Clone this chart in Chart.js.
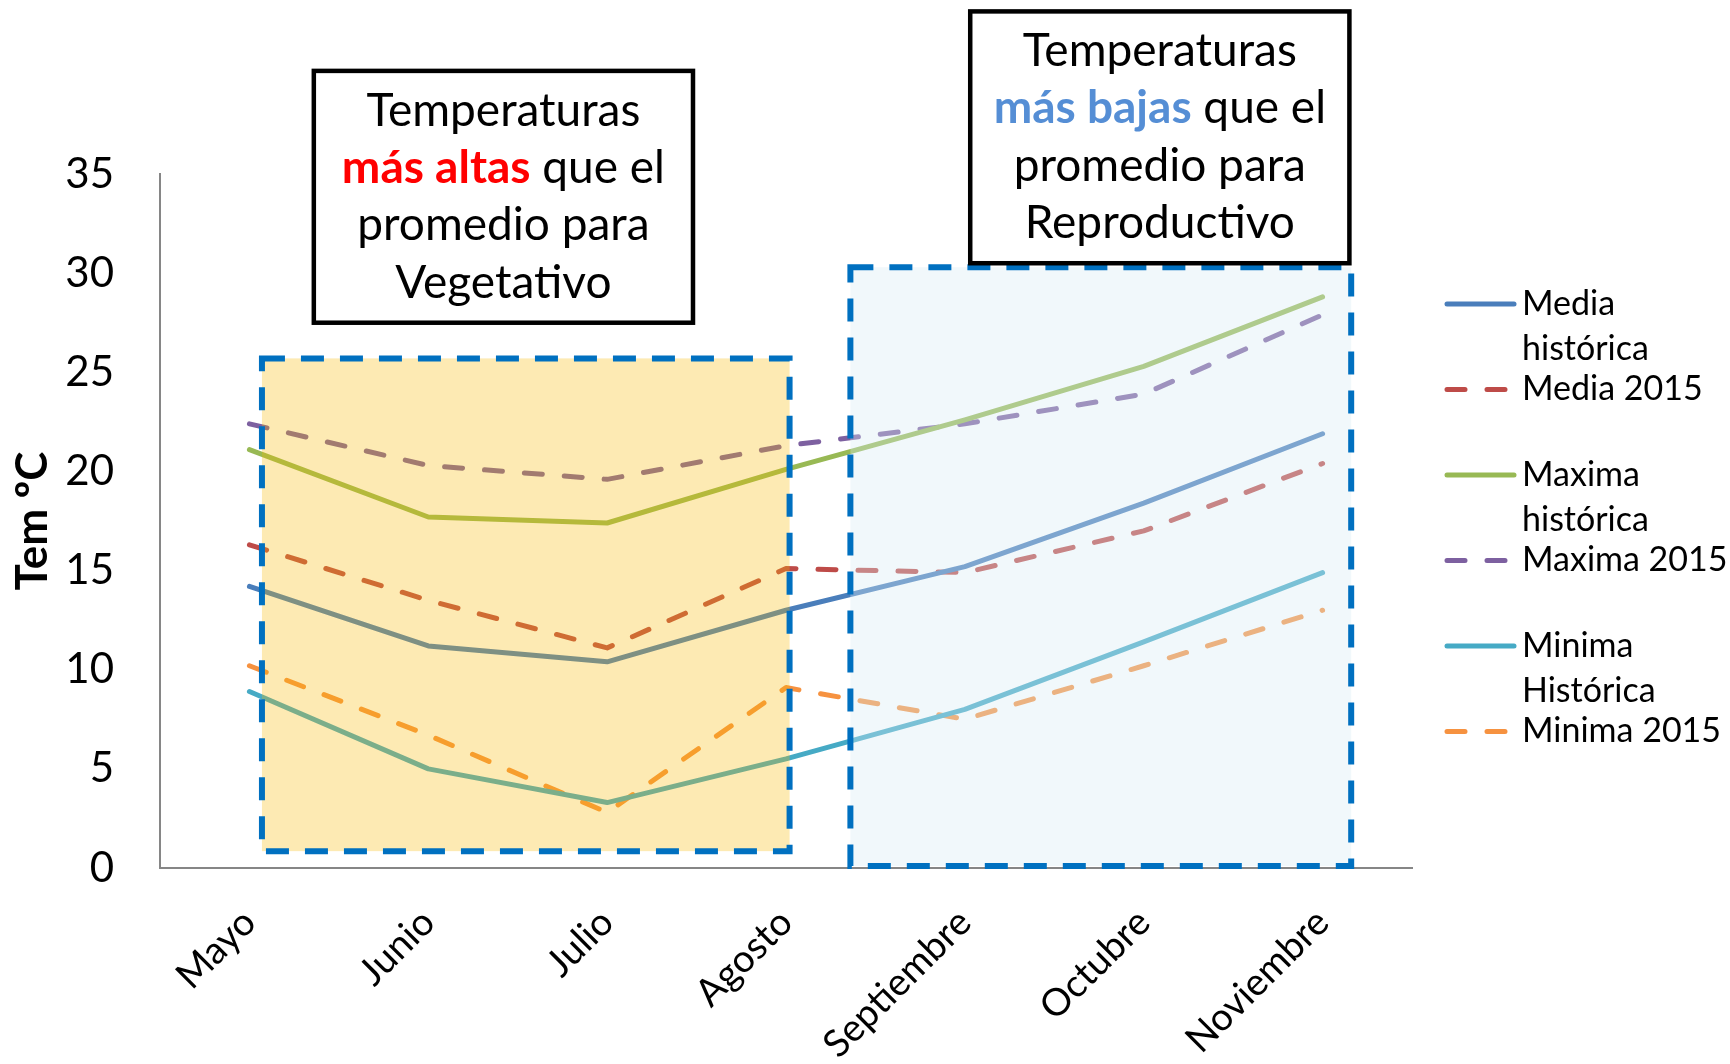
<!DOCTYPE html>
<html><head><meta charset="utf-8">
<script src="https://cdn.jsdelivr.net/npm/chart.js@4"></script>
<style>html,body{margin:0;padding:0;background:#fff;overflow:hidden}</style>
</head><body>
<canvas id="c" width="1730" height="1064"></canvas>
<script>
const categories = ['Mayo','Junio','Julio','Agosto','Septiembre','Octubre','Noviembre'];
const mediaHistorica  = [14.2, 11.2, 10.4, 13.0, 15.2, 18.4, 21.9];
const media2015       = [16.3, 13.5, 11.1, 15.1, 14.9, 17.0, 20.4];
const maximaHistorica = [21.1, 17.7, 17.4, 20.1, 22.6, 25.3, 28.8];
const maxima2015      = [22.4, 20.3, 19.6, 21.3, 22.4, 23.9, 27.9];
const minimaHistorica = [8.9, 5.0, 3.3, 5.5, 8.0, 11.4, 14.9];
const minima2015      = [10.2, 6.7, 2.8, 9.1, 7.5, 10.2, 13.0];
const yTickLabels = ['0','5','10','15','20','25','30','35'];
const seriesLabels = ['Media histórica','Media 2015','Maxima histórica','Maxima 2015','Minima Histórica','Minima 2015'];

const FONT = 'Lato, Carlito, "Open Sans", sans-serif';
const DASH = [18, 22];

function ds(label, data, color, dashed) {
  return {label, data, borderColor: color, backgroundColor: color, borderWidth: 5,
    borderDash: dashed ? DASH : [], borderCapStyle: 'round', borderJoinStyle: 'round',
    pointRadius: 0, tension: 0, fill: false};
}

// annotation regions in data units (category index, °C)
const regions = [
  {x0: 0.07, x1: 3.02, y0: 0.85, y1: 25.7, fill: 'rgba(248,185,2,0.3)'},
  {x0: 3.36, x1: 6.16, y0: 0.1, y1: 30.3, fill: 'rgba(215,235,243,0.36)'}
];
const notes = [
  {x0: 0.36, x1: 2.48, y0: 27.5, y1: 40.2, lines: [
    [['Temperaturas', '#000', false]],
    [['más altas', '#FF0000', true], [' que el', '#000', false]],
    [['promedio para', '#000', false]],
    [['Vegetativo', '#000', false]]]},
  {x0: 4.03, x1: 6.15, y0: 30.5, y1: 43.2, lines: [
    [['Temperaturas', '#000', false]],
    [['más bajas', '#558ED5', true], [' que el', '#000', false]],
    [['promedio para', '#000', false]],
    [['Reproductivo', '#000', false]]]}
];

const overlayPlugin = {
  id: 'overlay',
  afterDatasetsDraw(chart) {
    const {ctx, scales: {x, y}} = chart;
    ctx.save();
    regions.forEach(r => {
      const l = x.getPixelForValue(r.x0), rr = x.getPixelForValue(r.x1);
      const t = y.getPixelForValue(r.y1), b = y.getPixelForValue(r.y0);
      ctx.fillStyle = r.fill;
      ctx.fillRect(l, t, rr - l, b - t);
      ctx.setLineDash([23, 16]);
      ctx.lineWidth = 6;
      ctx.strokeStyle = '#0070C0';
      ctx.strokeRect(l, t, rr - l, b - t);
    });
    ctx.setLineDash([]);
    notes.forEach(n => {
      const l = x.getPixelForValue(n.x0), rr = x.getPixelForValue(n.x1);
      const t = y.getPixelForValue(n.y1), b = y.getPixelForValue(n.y0);
      ctx.fillStyle = '#fff';
      ctx.fillRect(l, t, rr - l, b - t);
      ctx.lineWidth = 4.5;
      ctx.strokeStyle = '#000';
      ctx.strokeRect(l, t, rr - l, b - t);
      const cx = (l + rr) / 2, cy = (t + b) / 2, lh = 57.4;
      ctx.textBaseline = 'middle';
      ctx.textAlign = 'left';
      n.lines.forEach((runs, i) => {
        const ly = cy + (i - (n.lines.length - 1) / 2) * lh;
        let total = 0;
        runs.forEach(([s, c, bold]) => { ctx.font = (bold ? 'bold ' : '') + '46px ' + FONT; total += ctx.measureText(s).width; });
        let px = cx - total / 2;
        runs.forEach(([s, c, bold]) => {
          ctx.font = (bold ? 'bold ' : '') + '46px ' + FONT;
          ctx.fillStyle = c;
          ctx.fillText(s, px, ly);
          px += ctx.measureText(s).width;
        });
      });
    });
    ctx.restore();
  },
  afterDraw(chart) {
    const {ctx, chartArea} = chart;
    ctx.save();
    // y axis title
    ctx.translate(33, (chartArea.top + chartArea.bottom) / 2);
    ctx.rotate(-Math.PI / 2);
    ctx.font = 'bold 44px ' + FONT;
    ctx.fillStyle = '#000';
    ctx.textAlign = 'center';
    ctx.textBaseline = 'middle';
    ctx.fillText('Tem ºC', 0, 0);
    ctx.restore();
    // legend
    ctx.save();
    const lx0 = chartArea.right + 33, lx1 = lx0 + 69, tx = lx1 + 8;
    let iy = 304;
    ctx.font = '34px ' + FONT;
    ctx.textBaseline = 'middle';
    ctx.textAlign = 'left';
    chart.data.datasets.forEach(d => {
      ctx.strokeStyle = d.borderColor;
      ctx.lineWidth = 5;
      ctx.lineCap = 'round';
      ctx.setLineDash(d.borderDash);
      ctx.beginPath(); ctx.moveTo(lx0 + 2, iy); ctx.lineTo(lx1, iy); ctx.stroke();
      ctx.setLineDash([]);
      // wrap
      const words = d.label.split(' ');
      const lines = []; let cur = '';
      words.forEach(w => {
        const test = cur ? cur + ' ' + w : w;
        if (ctx.measureText(test).width > 225 && cur) { lines.push(cur); cur = w; } else cur = test;
      });
      lines.push(cur);
      ctx.fillStyle = '#000';
      lines.forEach((s, i) => ctx.fillText(s, tx, iy + i * 45));
      iy += 85.5;
    });
    ctx.restore();
  }
};

new Chart(document.getElementById('c'), {
  type: 'line',
  data: {
    labels: categories,
    datasets: [
      ds(seriesLabels[0], mediaHistorica, '#4A7EBB', false),
      ds(seriesLabels[1], media2015, '#BE4B48', true),
      ds(seriesLabels[2], maximaHistorica, '#98B954', false),
      ds(seriesLabels[3], maxima2015, '#7D60A0', true),
      ds(seriesLabels[4], minimaHistorica, '#46AAC5', false),
      ds(seriesLabels[5], minima2015, '#F69240', true)
    ]
  },
  options: {
    responsive: false,
    animation: false,
    devicePixelRatio: 1,
    layout: {padding: {left: 0, right: 318, top: 174, bottom: 0}},
    plugins: {legend: {display: false}, tooltip: {enabled: false}},
    scales: {
      x: {
        offset: true,
        grid: {display: false, drawTicks: false},
        border: {display: true, color: '#868686', width: 2},
        ticks: {color: '#000', font: {family: FONT, size: 38}, minRotation: 45, maxRotation: 45, padding: 32, autoSkip: false},
        afterFit: s => { s.height = 196; }
      },
      y: {
        min: 0, max: 35,
        grid: {display: false, drawTicks: false},
        border: {display: true, color: '#868686', width: 2},
        ticks: {stepSize: 5, color: '#000', font: {family: FONT, size: 42}, padding: 46,
          callback: (v) => yTickLabels[v / 5]},
        afterFit: s => { s.width = 160; }
      }
    }
  },
  plugins: [overlayPlugin]
});
</script>
</body></html>
